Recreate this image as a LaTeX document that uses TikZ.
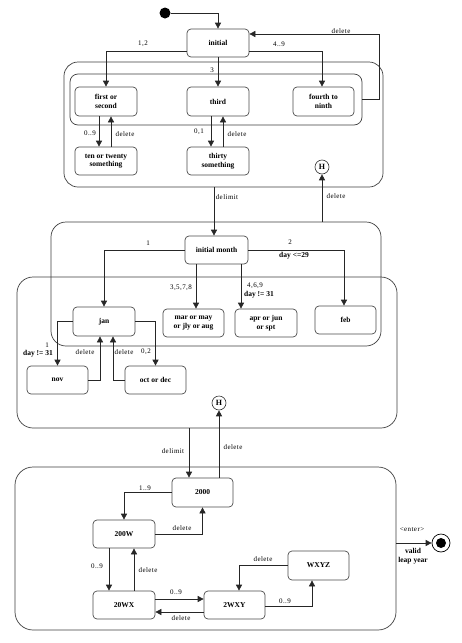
\documentclass[tikz,border=0pt]{standalone}
\usepackage{fontspec}
\setmainfont{Liberation Serif}
\newfontfamily\lblfont[LetterSpace=6]{Liberation Serif}
\usetikzlibrary{arrows.meta}
\begin{document}
\begin{tikzpicture}[x=1pt,y=-1pt,
  stbox/.style={draw=black!70, line width=0.7pt, rounded corners=4pt, align=center, inner sep=1pt,
    font=\bfseries\fontsize{7.5}{8.5}\selectfont},
  grp/.style={draw=black!75, line width=0.7pt, inner sep=0pt},
  arr/.style={draw=black!85, line width=0.7pt, -{Triangle[length=6pt,width=6pt]}},
  ln/.style={draw=black!85, line width=0.7pt},
  lbl/.style={inner sep=0pt, font=\lblfont\fontsize{7}{8}\selectfont},
  blbl/.style={inner sep=0pt, font=\bfseries\fontsize{7.5}{8}\selectfont, align=center},
  hist/.style={draw=black!80, circle, line width=0.6pt, minimum size=14pt, inner sep=0pt, font=\bfseries\fontsize{8}{8}\selectfont}]
\useasboundingbox (0,0) rectangle (462,643);
\fill[white] (0,0) rectangle (462,643);

% group frames
\node[grp, rounded corners=14pt, minimum width=319pt, minimum height=125pt] (g1) at (223.5,124.5) {};
\node[grp, rounded corners=8pt, minimum width=292pt, minimum height=51pt] (g1in) at (216,99.5) {};
\node[grp, rounded corners=15pt, minimum width=330pt, minimum height=124pt] (g2) at (216,284) {};
\node[grp, rounded corners=16pt, minimum width=380pt, minimum height=151pt] (g3) at (207,352.5) {};
\node[grp, rounded corners=18pt, minimum width=381pt, minimum height=163pt] (g4) at (205.5,548.5) {};

% states
\node[fill=black, circle, minimum size=11pt, inner sep=0pt] (start) at (165,13) {};
\node[stbox, minimum width=62pt, minimum height=28pt] (init) at (218,43) {initial};
\node[stbox, minimum width=62pt, minimum height=29pt] (first) at (106,101.5) {first or\\second};
\node[stbox, minimum width=62pt, minimum height=29pt] (third) at (218,101.5) {third};
\node[stbox, minimum width=61pt, minimum height=29pt] (fourth) at (323.5,101.5) {fourth to\\ninth};
\node[stbox, minimum width=62pt, minimum height=28pt] (ten) at (106,161) {ten or twenty\\something};
\node[stbox, minimum width=62pt, minimum height=28pt] (thirty) at (218,161) {thirty\\something};
\node[hist] (h1) at (322,167) {H};

\node[stbox, minimum width=63pt, minimum height=28pt] (imonth) at (216.5,250) {initial month};
\node[stbox, minimum width=62pt, minimum height=29pt] (jan) at (104,321.5) {jan};
\node[stbox, minimum width=61pt, minimum height=28pt] (mar) at (193.5,323) {mar or may\\or jly or aug};
\node[stbox, minimum width=62pt, minimum height=28pt] (apr) at (266,323) {apr or jun\\or spt};
\node[stbox, minimum width=61pt, minimum height=28pt] (feb) at (345.5,320) {feb};
\node[stbox, minimum width=61pt, minimum height=28pt] (nov) at (57.5,380) {nov};
\node[stbox, minimum width=61pt, minimum height=28pt] (oct) at (155.5,380) {oct or dec};
\node[hist] (h2) at (219,403) {H};

\node[stbox, minimum width=61pt, minimum height=29pt] (n2000) at (202.5,492.5) {2000};
\node[stbox, minimum width=62pt, minimum height=28pt] (n200W) at (124,534) {200W};
\node[stbox, minimum width=62pt, minimum height=28pt] (n20WX) at (124,605) {20WX};
\node[stbox, minimum width=61pt, minimum height=28pt] (n2WXY) at (234.5,605) {2WXY};
\node[stbox, minimum width=61pt, minimum height=29pt] (nWXYZ) at (318.5,565.5) {WXYZ};
\node[draw=black, circle, line width=0.7pt, minimum size=18pt, inner sep=0pt] (final) at (441,543) {};
\node[fill=black, circle, minimum size=10pt, inner sep=0pt] (finaldot) at (final) {};

% helper coordinates
\coordinate (cA) at ([xshift=-7pt]first.south);
\coordinate (cB) at ([xshift=5pt]first.south);
\coordinate (cC) at ([xshift=-7pt]third.south);
\coordinate (cD) at ([xshift=5pt]third.south);
\coordinate (cE) at ([xshift=-2.5pt]imonth.north);
\coordinate (cF) at ([xshift=-20.5pt]imonth.south);
\coordinate (cG) at ([xshift=24.5pt]imonth.south);
\coordinate (cH) at ([xshift=-13.5pt]n2000.north);
\coordinate (cI) at ([xshift=16.5pt]n2000.north);
\coordinate (cJ) at ([xshift=-15pt]n200W.south);
\coordinate (cK) at ([xshift=10pt]n200W.south);

% connectors
\draw[arr] (start.east) -| (init.north);
\draw[arr] ([yshift=-8pt]init.west) -| (first.north);
\draw[arr] (init.south) -- (third.north);
\draw[arr] ([yshift=-8pt]init.east) -| ([xshift=-1.5pt]fourth.north);
\draw[arr] (g1in.east) -- ++(17,0) |- ([yshift=9pt]init.east);
\draw[arr] (cA) -- (cA |- ten.north);
\draw[arr] (cB |- ten.north) -- (cB);
\draw[arr] (cC) -- (cC |- thirty.north);
\draw[arr] (cD |- thirty.north) -- (cD);
\draw[arr] (cE |- g1.south) -- (cE);
\draw[arr] (h1 |- g2.north) -- (h1.south);

\draw[arr] (imonth.west) -| (jan.north);
\draw[arr] (cF) -- (cF |- mar.north);
\draw[arr] (cG) -- (cG |- apr.north);
\draw[arr] (imonth.east) -| ([xshift=-1.5pt]feb.north);
\draw[arr] (jan.west) -| (nov.north);
\draw[arr] (nov.east) -| ([xshift=-4pt]jan.south);
\draw[arr] (oct.west) -| ([xshift=9pt]jan.south);
\draw[arr] (jan.east) -| (oct.north);

\draw[arr] (cH |- g3.south) -- (cH);
\draw[arr] (cI) -- (cI |- h2.south);
\draw[arr] (n2000.west) -| (n200W.north);
\draw[arr] (n200W.east) -| (n2000.south);
\draw[arr] (cJ) -- (cJ |- n20WX.north);
\draw[arr] (cK |- n20WX.north) -- (cK);
\draw[arr] ([yshift=6pt]n20WX.east) -- ([yshift=6pt]n2WXY.west);
\draw[arr] ([yshift=-7pt]n2WXY.west) -- ([yshift=-7pt]n20WX.east);
\draw[arr] ([yshift=-1pt]n2WXY.east) -| ([xshift=-6.5pt]nWXYZ.south);
\draw[arr] (nWXYZ.west) -| ([xshift=4.5pt]n2WXY.north);
\draw[arr] (g4.east |- final) -- (final.west);

% labels
\node[lbl] (l1) at (143,44) {1,2};
\node[lbl] (l2) at (212,70) {3};
\node[lbl] (l3) at (279,44) {4..9};
\node[lbl] (l4) at (341,31) {delete};
\node[lbl] (l5) at (90,133) {0..9};
\node[lbl] (l6) at (125,134) {delete};
\node[lbl] (l7) at (199,132) {0,1};
\node[lbl] (l8) at (237,134) {delete};
\node[lbl] (l9) at (227,197) {delimit};
\node[lbl] (l10) at (336,196) {delete};
\node[lbl] (l11) at (148,243) {1};
\node[lbl] (l12) at (290,242) {2};
\node[blbl] (l13) at (294,256) {day <=29};
\node[lbl] (l14) at (181,288) {3,5,7,8};
\node[lbl] (l15) at (255,286) {4,6,9};
\node[blbl] (l16) at (259,295) {day != 31};
\node[lbl] (l17) at (47,345) {1};
\node[blbl] (l18) at (38,354) {day != 31};
\node[lbl] (l19) at (85,352) {delete};
\node[lbl] (l20) at (124,352) {delete};
\node[lbl] (l21) at (146,352) {0,2};
\node[lbl] (l22) at (173,451) {delimit};
\node[lbl] (l23) at (233,447) {delete};
\node[lbl] (l24) at (145,488) {1..9};
\node[lbl] (l25) at (182,528) {delete};
\node[lbl] (l26) at (97,566) {0..9};
\node[lbl] (l27) at (148,570) {delete};
\node[lbl] (l28) at (176,592) {0..9};
\node[lbl] (l29) at (181,618) {delete};
\node[lbl] (l30) at (285,601) {0..9};
\node[lbl] (l31) at (263,559) {delete};
\node[lbl] (l32) at (412,530) {<enter>};
\node[blbl] (l33) at (413,551) {valid};
\node[blbl] (l34) at (413,561) {leap year};
\end{tikzpicture}
\end{document}
